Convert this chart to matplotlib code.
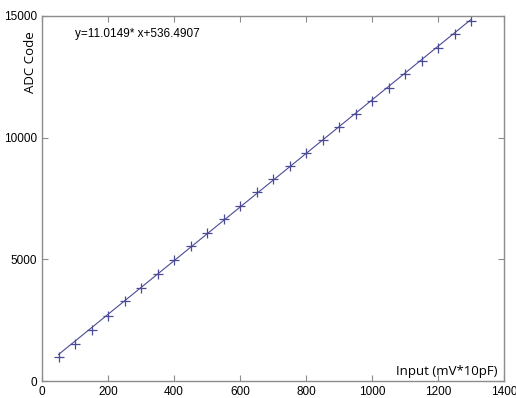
import matplotlib
matplotlib.use("Agg")
import matplotlib.pyplot as plt
import numpy as np

x_input = [50, 100, 150, 200, 250, 300, 350, 400, 450, 500, 550, 600, 650,
           700, 750, 800, 850, 900, 950, 1000, 1050, 1100, 1150, 1200, 1250, 1300]
adc_code = [970, 1530, 2100, 2660, 3290, 3840, 4400, 4990, 5560, 6100, 6660, 7210, 7760,
            8300, 8830, 9360, 9890, 10430, 10960, 11490, 12060, 12600, 13150, 13700, 14250, 14780]
slope = 11.0149
intercept = 536.4907
x_ticks = [0, 200, 400, 600, 800, 1000, 1200, 1400]
y_ticks = [0, 5000, 10000, 15000]

color = "#4a4a96"
spine_c = "#8c8c8c"

fig = plt.figure(figsize=(5.16, 3.98), dpi=100)
ax = fig.add_axes([42/516, 17/398, 462/516, 365/398])

xs = np.array([x_input[0], x_input[-1]])
ax.plot(xs, slope * xs + intercept, color=color, lw=0.8)
ax.plot(x_input, adc_code, linestyle="none", marker="+", color=color, ms=7, mew=0.9)

ax.set_xlim(0, 1400)
ax.set_ylim(0, 15000)
ax.set_xticks(x_ticks)
ax.set_yticks(y_ticks)
ax.tick_params(direction="in", top=True, right=True, length=4, width=0.8,
               colors=spine_c, labelcolor="black", labelsize=8.5)
for s in ax.spines.values():
    s.set_color(spine_c)
    s.set_linewidth(1.0)
for lbl in ax.get_xticklabels() + ax.get_yticklabels():
    lbl.set_family("Liberation Sans")

ax.text(75/516, 1 - 34/398, "y=11.0149* x+536.4907", transform=fig.transFigure,
        fontsize=8.5, family="Liberation Sans", va="center", ha="left")
ax.text(498/516, 1 - 371/398, "Input (mV*10pF)", transform=fig.transFigure,
        fontsize=9.5, family="Open Sans", va="center", ha="right")
ax.text(31/516, 1 - 62/398, "ADC Code", transform=fig.transFigure, rotation=90,
        fontsize=9.5, family="Open Sans", va="center", ha="center")

fig.savefig("out.png", dpi=100)
